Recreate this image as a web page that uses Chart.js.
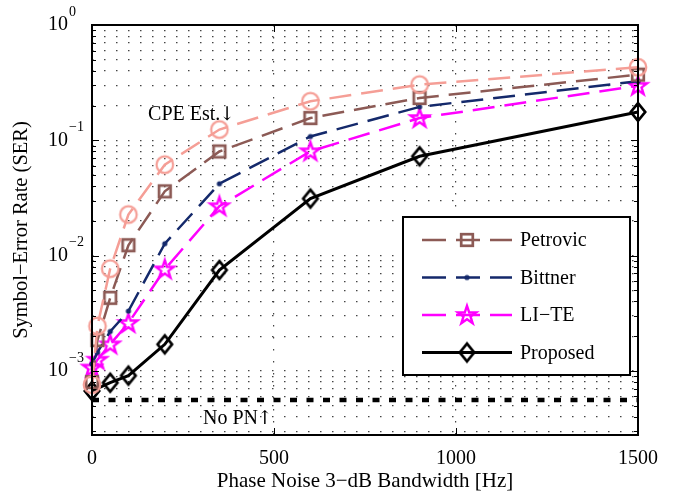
<!DOCTYPE html>
<html>
<head>
<meta charset="utf-8">
<title>SER vs phase noise bandwidth</title>
<script src="https://cdn.jsdelivr.net/npm/chart.js@4/dist/chart.umd.min.js"></script>
<style>
    html, body { margin: 0; padding: 0; background: #fff; }
    #wrap { width: 676px; height: 497px; position: relative; }
</style>
</head>
<body>
<div id="wrap"><canvas id="serChart"></canvas></div>
<script>
// Phase noise 3-dB bandwidth [Hz] used by every curve
const bandwidth = [0, 15, 50, 100, 200, 350, 600, 900, 1500];

// Symbol error rate per method (null = no marker at that bandwidth)
const serCpe      = [7.6e-4, 2.45e-3, 7.7e-3, 0.0227, 0.0615, 0.124, 0.218, 0.304, 0.43];
const serPetrovic = [8.0e-4, 1.85e-3, 4.3e-3, 0.0123, 0.0361, 0.080, 0.156, 0.233, 0.371];
const serBittner  = [1.15e-3, 1.45e-3, 2.2e-3, 3.3e-3, 0.0127, 0.042, 0.108, 0.195, 0.325];
const serLiTe     = [1.07e-3, 1.25e-3, 1.7e-3, 2.6e-3, 7.6e-3, 0.0268, 0.0803, 0.156, 0.297];
const serProposed = [6.7e-4, null, 7.9e-4, 9.1e-4, 1.7e-3, 7.5e-3, 0.0312, 0.0727, 0.176];

// Floor without phase noise
const noPnLevel = 5.6e-4;

// Axis ticks
const xTicks = [0, 500, 1000, 1500];
const yDecades = [1e-3, 1e-2, 1e-1, 1];
const yMin = 2.78e-4;
const yMax = 1;

// Text notes placed in data coordinates (label + arrow)
const notes = [
    { text: 'CPE Est.', arrow: '\u2193', x: 154, y: 0.172 },
    { text: 'No PN', arrow: '\u2191', x: 305, y: 3.98e-4 }
];

const SERIF = '"Liberation Serif", "Times New Roman", serif';
const ARROW_FONT = '"DejaVu Serif", "DejaVu Sans", serif';

const COLORS = {
    cpe: '#F59E96',
    petrovic: '#8C5A55',
    bittner: '#14296B',
    lite: '#FF00FF',
    proposed: '#000000'
};

/**
 * Marker images (MATLAB style, hollow)
 */
function newCanvas(w, h) {
    const c = document.createElement('canvas');
    c.width = w;
    c.height = h;
    return c;
}

function circleMarker(color) {
    const c = newCanvas(22, 22);
    const g = c.getContext('2d');
    g.beginPath();
    g.arc(11, 11, 8.3, 0, Math.PI * 2);
    g.strokeStyle = color;
    g.lineWidth = 2.2;
    g.stroke();
    return c;
}

function squareMarker(color) {
    const c = newCanvas(18, 18);
    const g = c.getContext('2d');
    g.strokeStyle = color;
    g.lineWidth = 2.7;
    g.strokeRect(3.2, 3.2, 11.6, 11.6);
    return c;
}

function dotMarker(color) {
    const c = newCanvas(8, 8);
    const g = c.getContext('2d');
    g.beginPath();
    g.arc(4, 4, 2.6, 0, Math.PI * 2);
    g.fillStyle = color;
    g.fill();
    return c;
}

function starMarker(color) {
    const c = newCanvas(26, 26);
    const g = c.getContext('2d');
    const r = 9.6;
    g.translate(13, 13.5);
    g.beginPath();
    for (let k = 0; k < 10; k++) {
        const rad = k % 2 ? r * 0.39 : r;
        const a = -Math.PI / 2 + k * Math.PI / 5;
        g.lineTo(rad * Math.cos(a), rad * Math.sin(a));
    }
    g.closePath();
    g.strokeStyle = color;
    g.lineWidth = 2.4;
    g.lineJoin = 'miter';
    g.stroke();
    return c;
}

function diamondMarker(color) {
    const c = newCanvas(22, 26);
    const g = c.getContext('2d');
    g.beginPath();
    g.moveTo(11, 13 - 8.8);
    g.lineTo(11 + 7.2, 13);
    g.lineTo(11, 13 + 8.8);
    g.lineTo(11 - 7.2, 13);
    g.closePath();
    g.strokeStyle = color;
    g.lineWidth = 2.7;
    g.lineJoin = 'miter';
    g.stroke();
    return c;
}

function toPoints(values) {
    return bandwidth
        .map((x, i) => ({ x: x, y: values[i] }))
        .filter(p => p.y !== null);
}

// Y grid at every 1..9 x 10^k inside the range
function buildLogTicks() {
    const ticks = [];
    for (let e = -4; e <= 0; e++) {
        for (let m = 1; m <= 9; m++) {
            const v = Number((m * Math.pow(10, e)).toPrecision(3));
            if (v >= yMin && v <= yMax) ticks.push({ value: v, major: m === 1 });
        }
    }
    return ticks;
}

const dash = [22, 10];

const series = [
    { label: 'CPE Est.', values: serCpe, color: COLORS.cpe, marker: circleMarker(COLORS.cpe), dash: dash, width: 2.5, legend: false },
    { label: 'Petrovic', values: serPetrovic, color: COLORS.petrovic, marker: squareMarker(COLORS.petrovic), dash: dash, width: 2.5, legend: true },
    { label: 'Bittner', values: serBittner, color: COLORS.bittner, marker: dotMarker(COLORS.bittner), dash: dash, width: 2.5, legend: true },
    { label: 'LI\u2212TE', values: serLiTe, color: COLORS.lite, marker: starMarker(COLORS.lite), dash: dash, width: 2.5, legend: true },
    { label: 'Proposed', values: serProposed, color: COLORS.proposed, marker: diamondMarker(COLORS.proposed), dash: [], width: 3, legend: true }
];

const datasets = series.map(s => ({
    label: s.label,
    data: toPoints(s.values),
    borderColor: s.color,
    backgroundColor: s.color,
    borderWidth: s.width,
    borderDash: s.dash,
    pointStyle: s.marker,
    pointRadius: 9,
    tension: 0,
    clip: false
}));

datasets.push({
    label: 'No PN',
    data: [{ x: xTicks[0], y: noPnLevel }, { x: xTicks[xTicks.length - 1], y: noPnLevel }],
    borderColor: '#000',
    borderWidth: 4.5,
    borderDash: [7, 9.5],
    borderCapStyle: 'butt',
    pointRadius: 0,
    clip: false
});

/**
 * Frame, inward ticks, y labels, notes and legend box
 */
const decorPlugin = {
    id: 'decor',
    afterDatasetsDraw(chart) {
        const ctx = chart.ctx;
        const { left, right, top, bottom } = chart.chartArea;
        const xS = chart.scales.x;
        const yS = chart.scales.y;

        ctx.save();
        ctx.strokeStyle = '#000';
        ctx.lineWidth = 1;
        ctx.setLineDash([]);

        const seg = (x1, y1, x2, y2) => {
            ctx.beginPath();
            ctx.moveTo(x1, y1);
            ctx.lineTo(x2, y2);
            ctx.stroke();
        };

        yS.ticks.forEach(t => {
            const py = Math.round(yS.getPixelForValue(t.value)) + 0.5;
            const len = t.major ? 7 : 4;
            seg(left, py, left + len, py);
            seg(right, py, right - len, py);
        });
        xTicks.forEach(v => {
            const px = Math.round(xS.getPixelForValue(v)) + 0.5;
            seg(px, bottom, px, bottom - 7);
            seg(px, top, px, top + 7);
        });

        ctx.lineWidth = 2;
        ctx.strokeRect(left, top, right - left, bottom - top);

        // y tick labels as 10^k
        ctx.fillStyle = '#000';
        yDecades.forEach(v => {
            const py = yS.getPixelForValue(v);
            const e = Math.round(Math.log10(v));
            ctx.font = '20px ' + SERIF;
            ctx.textAlign = 'right';
            ctx.textBaseline = 'middle';
            ctx.fillText('10', left - 24, py);
            ctx.font = '14px ' + SERIF;
            ctx.textAlign = 'left';
            ctx.fillText(e === 0 ? '0' : '\u2212' + Math.abs(e), left - 23, py - 13);
        });

        // notes with arrows
        ctx.textAlign = 'left';
        ctx.textBaseline = 'alphabetic';
        notes.forEach(n => {
            const px = xS.getPixelForValue(n.x);
            const py = yS.getPixelForValue(n.y) + 7;
            ctx.font = '20px ' + SERIF;
            ctx.fillText(n.text, px, py);
            const w = ctx.measureText(n.text).width;
            ctx.font = '19px ' + ARROW_FONT;
            ctx.fillText(n.arrow, px + w - 1, py);
        });

        // legend
        const box = { x: left + 311, y: top + 192, w: 227, h: 158 };
        ctx.fillStyle = '#fff';
        ctx.fillRect(box.x, box.y, box.w, box.h);
        ctx.lineWidth = 2;
        ctx.strokeRect(box.x, box.y, box.w, box.h);

        const entries = series.filter(s => s.legend);
        entries.forEach((s, i) => {
            const ly = box.y + 23 + i * 37.5;
            const x1 = box.x + 19;
            const x2 = box.x + 109;
            ctx.strokeStyle = s.color;
            ctx.lineWidth = s.width;
            ctx.setLineDash(s.dash.length ? [24, 10] : []);
            seg(x1, ly, x2, ly);
            ctx.setLineDash([]);
            const mx = (x1 + x2) / 2;
            ctx.drawImage(s.marker, mx - s.marker.width / 2, ly - s.marker.height / 2);
            ctx.fillStyle = '#000';
            ctx.font = '20px ' + SERIF;
            ctx.textAlign = 'left';
            ctx.textBaseline = 'middle';
            ctx.fillText(s.label, box.x + 117, ly + 1);
        });

        ctx.restore();
    }
};

const ctx = document.getElementById('serChart').getContext('2d');

new Chart(ctx, {
    type: 'line',
    data: { datasets: datasets },
    options: {
        responsive: true,
        maintainAspectRatio: false,
        animation: false,
        layout: {
            padding: { top: 25, right: 38, left: 0, bottom: 0 }
        },
        plugins: {
            legend: { display: false },
            tooltip: { enabled: false }
        },
        scales: {
            x: {
                type: 'linear',
                min: xTicks[0],
                max: xTicks[xTicks.length - 1],
                afterBuildTicks: scale => {
                    scale.ticks = xTicks.map(v => ({ value: v }));
                },
                afterFit: scale => {
                    scale.height = 62;
                },
                grid: {
                    color: '#444',
                    lineWidth: 1.2,
                    drawTicks: false
                },
                border: { display: false, dash: [1.5, 10.5] },
                ticks: {
                    color: '#000',
                    padding: 12,
                    maxRotation: 0,
                    font: { family: SERIF, size: 20 },
                    callback: value => String(value)
                },
                title: {
                    display: true,
                    text: 'Phase Noise 3\u2212dB Bandwidth [Hz]',
                    color: '#000',
                    font: { family: SERIF, size: 21 },
                    padding: { top: 0, bottom: 3 }
                }
            },
            y: {
                type: 'logarithmic',
                min: yMin,
                max: yMax,
                afterBuildTicks: scale => {
                    scale.ticks = buildLogTicks();
                },
                afterFit: scale => {
                    scale.width = 92;
                },
                grid: {
                    color: '#444',
                    lineWidth: 1.2,
                    drawTicks: false
                },
                border: { display: false, dash: [1.5, 10.5] },
                ticks: { display: false },
                title: {
                    display: true,
                    text: 'Symbol\u2212Error Rate (SER)',
                    color: '#000',
                    font: { family: SERIF, size: 20.5 },
                    padding: { top: 9, bottom: 0 }
                }
            }
        }
    },
    plugins: [decorPlugin]
});
</script>
</body>
</html>
